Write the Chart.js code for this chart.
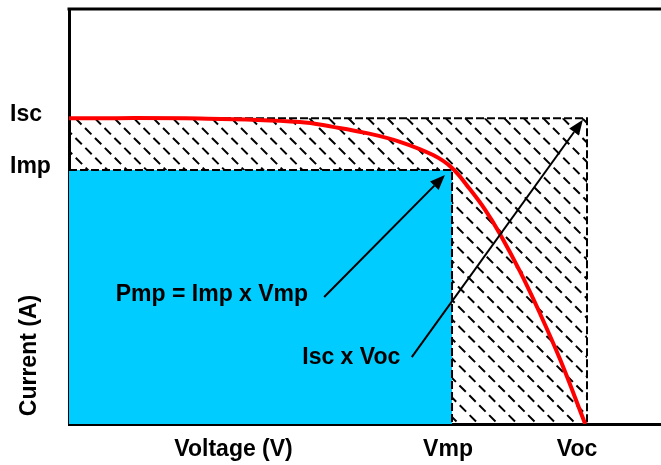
<!DOCTYPE html>
<html>
<head>
<meta charset="utf-8">
<script src="https://cdn.jsdelivr.net/npm/chart.js@4"></script>
<style>
    html, body { margin: 0; padding: 0; background: #fff; }
</style>
</head>
<body>
<canvas id="myChart" width="661" height="465"></canvas>
<script>
// I-V curve (arbitrary volt / amp units)
const ivVoltage = [0, 22.1, 39.0, 44.6, 50.3, 55.9, 61.5, 64.7, 67.7, 70.3, 72.8, 76.2, 79.6, 83.0, 87.2];
const ivCurrent = [7.37, 7.36, 7.28, 7.16, 7.01, 6.80, 6.48, 6.17, 5.66, 5.16, 4.58, 3.67, 2.65, 1.54, 0];

const Isc = 7.37;
const Imp = 6.12;
const Vmp = 64.7;
const Voc = 87.5;

// axis labels
const xTickValues = [Vmp, Voc];
const xTickLabels = ["Vmp", "Voc"];
const yTickValues = [Isc, Imp];
const yTickLabels = ["Isc", "Imp"];
const xTitle = "Voltage (V)";
const yTitle = "Current (A)";

// annotations + arrows
const noteText = ["Pmp = Imp x Vmp", "Isc x Voc"];
const noteX = [7.9, 39.4];
const noteY = [3.11, 1.61];
const arrowFromX = [43.1, 57.9];
const arrowFromY = [3.06, 1.61];
const arrowToX = [63.5, 86.8];
const arrowToY = [6.0, 7.33];

const FONT = 'bold 23px "Liberation Sans", Arial, sans-serif';

const decorPlugin = {
    id: "decor",
    beforeDatasetsDraw(chart) {
        // hatched Isc x Voc box
        const ctx = chart.ctx;
        const x = chart.scales.x, y = chart.scales.y;
        const L = x.getPixelForValue(0), R = x.getPixelForValue(Voc);
        const T = y.getPixelForValue(Isc), B = y.getPixelForValue(0);
        const h = B - T;
        ctx.save();
        ctx.beginPath();
        ctx.rect(L, T, R - L, h);
        ctx.clip();
        ctx.strokeStyle = "#000";
        ctx.lineWidth = 2;
        ctx.setLineDash([9, 5]);
        for (let off = -h; off < R - L; off += 19.5) {
            ctx.beginPath();
            ctx.moveTo(L + off, T);
            ctx.lineTo(L + off + h, T + h);
            ctx.stroke();
        }
        ctx.restore();
    },
    afterDraw(chart) {
        const ctx = chart.ctx;
        const x = chart.scales.x, y = chart.scales.y;
        const area = chart.chartArea;
        ctx.save();

        // top frame line
        ctx.strokeStyle = "#000";
        ctx.lineWidth = 3;
        ctx.beginPath();
        ctx.moveTo(area.left - 1.5, area.top);
        ctx.lineTo(area.right, area.top);
        ctx.stroke();

        // arrows
        ctx.lineWidth = 2;
        ctx.fillStyle = "#000";
        for (let i = 0; i < arrowFromX.length; i++) {
            const x0 = x.getPixelForValue(arrowFromX[i]), y0 = y.getPixelForValue(arrowFromY[i]);
            const x1 = x.getPixelForValue(arrowToX[i]), y1 = y.getPixelForValue(arrowToY[i]);
            const a = Math.atan2(y1 - y0, x1 - x0);
            const len = 15, hw = 6;
            const bx = x1 - len * Math.cos(a), by = y1 - len * Math.sin(a);
            ctx.beginPath();
            ctx.moveTo(x0, y0);
            ctx.lineTo(bx, by);
            ctx.stroke();
            ctx.beginPath();
            ctx.moveTo(x1, y1);
            ctx.lineTo(bx + hw * Math.sin(a), by - hw * Math.cos(a));
            ctx.lineTo(bx - hw * Math.sin(a), by + hw * Math.cos(a));
            ctx.closePath();
            ctx.fill();
        }

        // text
        ctx.font = FONT;
        ctx.fillStyle = "#000";
        ctx.textBaseline = "middle";
        ctx.textAlign = "left";
        for (let i = 0; i < noteText.length; i++) {
            ctx.fillText(noteText[i], x.getPixelForValue(noteX[i]), y.getPixelForValue(noteY[i]));
        }
        for (let i = 0; i < yTickLabels.length; i++) {
            ctx.fillText(yTickLabels[i], 10, y.getPixelForValue(yTickValues[i]) - 3);
        }
        ctx.textAlign = "center";
        const xOff = [-4, -10];
        for (let i = 0; i < xTickLabels.length; i++) {
            ctx.fillText(xTickLabels[i], x.getPixelForValue(xTickValues[i]) + xOff[i], 450);
        }
        ctx.fillText(xTitle, x.getPixelForValue(27.8), 450);

        ctx.translate(area.left - 39, y.getPixelForValue(1.65));
        ctx.rotate(-Math.PI / 2);
        ctx.fillText(yTitle, 0, 0);
        ctx.restore();
    },
};

const ctx = document.getElementById("myChart").getContext("2d");
const myChart = new Chart(ctx, {
    type: "line",
    data: {
        datasets: [
            {
                label: "I-V",
                data: ivVoltage.map((v, i) => ({ x: v, y: ivCurrent[i] })),
                borderColor: "#ff0000",
                borderWidth: 4,
                pointRadius: 0,
                tension: 0.4,
                fill: false,
                order: 0,
            },
            {
                label: "Pmp",
                data: [{ x: 0, y: Imp }, { x: Vmp, y: Imp }, { x: Vmp, y: 0 }],
                borderColor: "#000",
                borderWidth: 2,
                borderDash: [8, 3],
                backgroundColor: "#00ccff",
                pointRadius: 0,
                tension: 0,
                fill: "origin",
                order: 1,
            },
            {
                label: "IscVoc",
                data: [{ x: 0, y: Isc }, { x: Voc, y: Isc }, { x: Voc, y: 0 }],
                borderColor: "#000",
                borderWidth: 2,
                borderDash: [8, 3],
                pointRadius: 0,
                tension: 0,
                fill: false,
                order: 2,
            },
        ],
    },
    options: {
        responsive: false,
        animation: false,
        layout: { padding: { left: 69, top: 9, right: 0, bottom: 41 } },
        plugins: {
            legend: { display: false },
            tooltip: { enabled: false },
        },
        scales: {
            x: {
                type: "linear",
                min: 0,
                max: 100,
                grid: { display: false, drawTicks: false },
                ticks: { display: false },
                border: { display: true, color: "#000", width: 3 },
            },
            y: {
                type: "linear",
                min: 0,
                max: 10,
                grid: { display: false, drawTicks: false },
                ticks: { display: false },
                border: { display: true, color: "#000", width: 3 },
            },
        },
    },
    plugins: [decorPlugin],
});
</script>
</body>
</html>
